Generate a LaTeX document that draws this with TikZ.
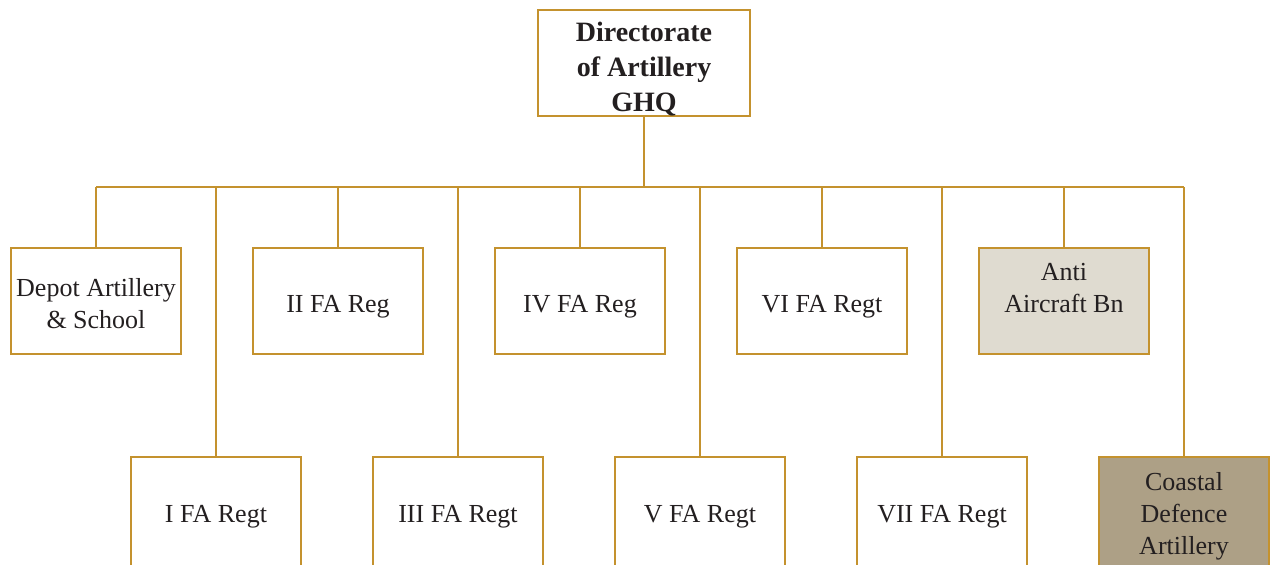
\documentclass[tikz,border=0pt]{standalone}
\usepackage{fontspec}
\setmainfont{Liberation Serif}
\definecolor{gold}{HTML}{C4922E}
\definecolor{ink}{HTML}{231F20}
\definecolor{paleunit}{HTML}{DFDBD0}
\definecolor{darkunit}{HTML}{ADA086}
\tikzset{
  unit/.style={draw=gold, line width=2pt, fill=white, minimum width=170pt,
    minimum height=106pt, inner sep=0pt},
  lowunit/.style={unit, minimum height=140pt},
  tag/.style={align=center, text=ink, inner sep=0pt,
    font=\fontsize{26pt}{32pt}\selectfont},
  headtag/.style={tag, font=\bfseries\fontsize{28pt}{35pt}\selectfont},
  link/.style={draw=gold, line width=2pt}
}
\begin{document}
\begin{tikzpicture}[x=1pt,y=-1pt]
  \useasboundingbox (0,0) rectangle (1272,565);
  \clip (0,0) rectangle (1272,565);
  \fill[white] (0,0) rectangle (1272,565);

  % command
  \node[unit, minimum width=212pt,
    label={[headtag, yshift=-6pt]center:Directorate\\of Artillery\\GHQ}] (dir) at (644,63) {};

  % upper row
  \node[unit, label={[tag, yshift=-3pt]center:Depot Artillery\\\& School}] (depot) at (96,301) {};
  \node[unit, label={[tag, yshift=-6pt]center:II FA Reg}]  (ii) at (338,301) {};
  \node[unit, label={[tag, yshift=-6pt]center:IV FA Reg}]  (iv) at (580,301) {};
  \node[unit, label={[tag, yshift=-6pt]center:VI FA Regt}] (vi) at (822,301) {};
  \node[unit, fill=paleunit,
    label={[tag, yshift=13pt]center:Anti\\Aircraft Bn}] (aa) at (1064,301) {};

  % lower row (boxes run on past the lower edge)
  \node[lowunit, label={[tag, yshift=10pt]center:I FA Regt}]   (i)   at (216,527) {};
  \node[lowunit, label={[tag, yshift=10pt]center:III FA Regt}] (iii) at (458,527) {};
  \node[lowunit, label={[tag, yshift=10pt]center:V FA Regt}]   (v)   at (700,527) {};
  \node[lowunit, label={[tag, yshift=10pt]center:VII FA Regt}] (vii) at (942,527) {};
  \node[lowunit, fill=darkunit,
    label={[tag, yshift=11pt]center:Coastal\\Defence\\Artillery}] (coast) at (1184,527) {};

  % distribution bus
  \coordinate (hub) at (644,187);
  \coordinate (busL) at (depot.north |- hub);
  \coordinate (busR) at (coast.north |- hub);
  \draw[link] (dir.south) -- (hub);
  \draw[link] (busL) -- (busR);
  \foreach \n in {depot,ii,iv,vi,aa,i,iii,v,vii}
    \draw[link] (\n.north |- hub) -- (\n.north);
  \draw[link] (busR) -- (coast.north);
\end{tikzpicture}
\end{document}
